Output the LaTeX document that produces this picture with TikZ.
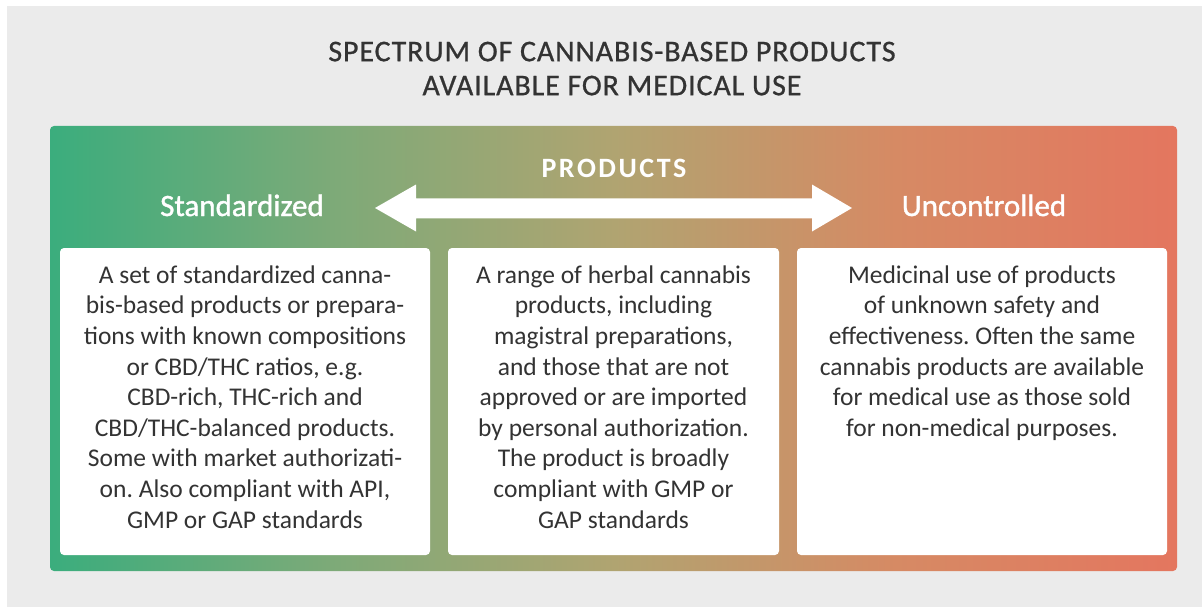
\documentclass[tikz,border=0pt]{standalone}
\usepackage{fontspec}
\setmainfont{Carlito}
\frenchspacing
\newfontfamily\labfont[FakeBold=1.2]{Carlito}
\newfontfamily\titfont[LetterSpace=3,FakeBold=0.8]{Carlito}
\newfontfamily\prodfont[LetterSpace=9]{Carlito}
\definecolor{bg}{HTML}{EBEBEB}
\definecolor{ink}{HTML}{333333}
\pgfdeclarehorizontalshading{spectrum}{100bp}{%
  rgb(0bp)=(0.231,0.678,0.490);
  rgb(25bp)=(0.231,0.678,0.490);
  rgb(37.5bp)=(0.490,0.667,0.471);
  rgb(50bp)=(0.690,0.643,0.443);
  rgb(62.5bp)=(0.839,0.541,0.392);
  rgb(75bp)=(0.894,0.463,0.373);
  rgb(100bp)=(0.894,0.463,0.373)}
\tikzset{
  panel/.style={rectangle, rounded corners=4pt, shading=spectrum, minimum width=1127pt, minimum height=445pt, inner sep=0pt, draw=none},
  card/.style={rectangle, rounded corners=4pt, fill=white, minimum width=#1, minimum height=307pt, inner sep=0pt},
  body/.style={anchor=north, inner sep=0pt, align=center, text=ink, font=\fontsize{25.5}{30.6}\selectfont},
  lab/.style={anchor=base, inner sep=0pt, text=white, font=\labfont\fontsize{31}{36}\selectfont},
  prod/.style={anchor=base, inner sep=0pt, text=white, font=\prodfont\bfseries\fontsize{28}{32}\selectfont},
  ttl/.style={anchor=north, inner sep=0pt, align=center, text=ink, font=\titfont\fontsize{30}{34}\selectfont},
}
\begin{document}
\begin{tikzpicture}[x=1pt,y=-1pt]
\useasboundingbox (0,0) rectangle (1202,607);
\fill[bg] (7,6) rectangle (1202,607);
\node[ttl] (title) at (612,41) {\rule{0pt}{20pt}SPECTRUM OF CANNABIS-BASED PRODUCTS\\AVAILABLE FOR MEDICAL USE};
\node[panel] (panel) at (613.5,348.5) {};
\node[card=370pt] (b1) at (245,401.5) {};
\node[card=331pt] (b2) at (613.5,401.5) {};
\node[card=370pt] (b3) at (982,401.5) {};
\node[lab] (std) at (242,216) {Standardized};
\node[lab] (unc) at (984,216) {Uncontrolled};
\node[prod] (prd) at (614,177) {PRODUCTS};
\coordinate (lt) at (375,208);
\coordinate (rt) at (852,208);
\fill[white] (lt) -- (416,184.5) -- (416,198.3) -- (812,198.3) -- (812,184.5) -- (rt) -- (812,231.5) -- (812,218.3) -- (416,218.3) -- (416,231.5) -- cycle;
\node[body] (t1) at (245,263) {\rule{0pt}{20pt}A set of standardized canna-\\bis-based products or prepara-\\tions with known compositions\\or CBD/THC ratios, e.g.\\CBD-rich, THC-rich and\\CBD/THC-balanced products.\\Some with market authorizati-\\on. Also compliant with API,\\GMP or GAP standards};
\node[body] (t2) at (613.5,263) {\rule{0pt}{20pt}A range of herbal cannabis\\products, including\\magistral preparations,\\and those that are not\\approved or are imported\\by personal authorization.\\The product is broadly\\compliant with GMP or\\GAP standards};
\node[body] (t3) at (982,263) {\rule{0pt}{20pt}Medicinal use of products\\of unknown safety and\\effectiveness. Often the same\\cannabis products are available\\for medical use as those sold\\for non-medical purposes.};
\end{tikzpicture}
\end{document}
